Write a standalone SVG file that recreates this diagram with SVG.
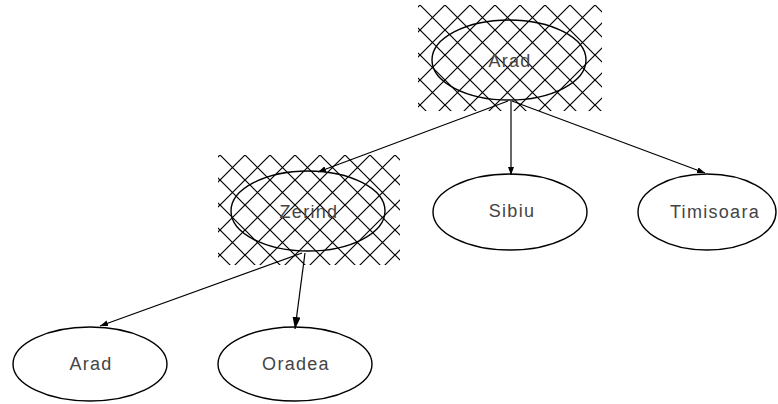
<svg xmlns="http://www.w3.org/2000/svg" width="778" height="404" viewBox="0 0 778 404">
<style>
.n{fill:none;stroke:#000;stroke-width:1.4}
.t{font-family:"Liberation Sans",Arial,sans-serif;font-size:18px;letter-spacing:1.3px;fill:#444;text-anchor:middle}
.e{stroke:#000;stroke-width:1.2;fill:none}
</style>
<defs>
<pattern id="hatch" width="25" height="25" patternUnits="userSpaceOnUse" x="420" y="5">
<path d="M0 0L25 25M25 0L0 25" stroke="#000" stroke-width="1.2"/>
</pattern>
<marker id="ah" markerWidth="8" markerHeight="6" refX="8" refY="3" orient="auto" markerUnits="userSpaceOnUse">
<path d="M0 0L8 3L0 6Z" fill="#000"/>
</marker>
<marker id="ahb" markerWidth="12" markerHeight="8" refX="12" refY="4" orient="auto" markerUnits="userSpaceOnUse">
<path d="M0 0L12 4L0 8Z" fill="#000"/>
</marker>
</defs>
<g id="edges">
<line class="e" x1="508" y1="101" x2="318" y2="172" marker-end="url(#ah)"/>
<line class="e" x1="511" y1="101" x2="511" y2="175" marker-end="url(#ah)"/>
<line class="e" x1="512" y1="101" x2="705" y2="173" marker-end="url(#ah)"/>
<line class="e" x1="302" y1="253" x2="100" y2="326" marker-end="url(#ah)"/>
<line class="e" x1="305" y1="253" x2="295" y2="329" marker-end="url(#ahb)"/>
</g>
<g id="node-arad-root">
<rect x="418" y="5" width="184" height="106" fill="url(#hatch)"/>
<ellipse class="n" cx="509" cy="60" rx="77" ry="40"/>
<text class="t" x="510" y="67">Arad</text>
</g>
<g id="node-zerind">
<rect x="218" y="155" width="182" height="110" fill="url(#hatch)"/>
<ellipse class="n" cx="308" cy="211" rx="77" ry="40"/>
<text class="t" x="309" y="218">Zerind</text>
</g>
<g id="node-sibiu">
<ellipse class="n" cx="510" cy="212" rx="77" ry="38"/>
<text class="t" x="512" y="217">Sibiu</text>
</g>
<g id="node-timisoara">
<ellipse class="n" cx="707" cy="212" rx="69" ry="38"/>
<text class="t" x="715" y="218">Timisoara</text>
</g>
<g id="node-arad">
<ellipse class="n" cx="90" cy="364" rx="77" ry="37"/>
<text class="t" x="91" y="370">Arad</text>
</g>
<g id="node-oradea">
<ellipse class="n" cx="295" cy="364" rx="77" ry="37"/>
<text class="t" x="296" y="370">Oradea</text>
</g>
</svg>
